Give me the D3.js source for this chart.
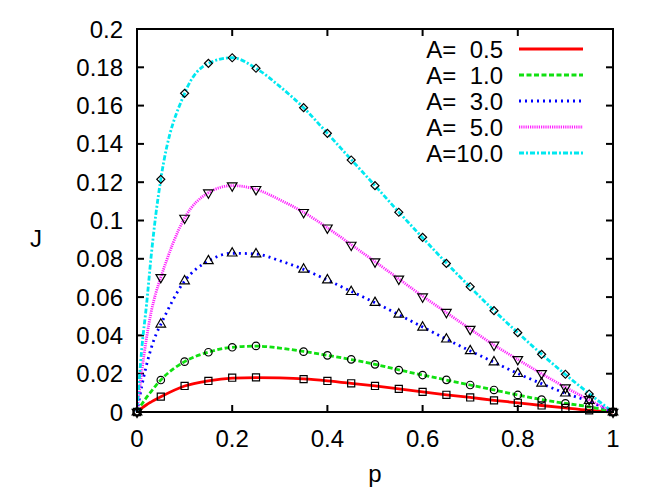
<!DOCTYPE html>
<html lang="en">
  <head>
    <meta charset="utf-8">
    <script src="https://cdn.jsdelivr.net/npm/d3@7"></script>
    <title>J vs p</title>
    <style>
      body { margin: 0; background: #fff; }
      text { font-family: "Liberation Sans", Arial, sans-serif; fill: #000; }
    </style>
  </head>
  <body>
    <script>

    // marker positions (p) and the J value of each curve there
    var pMarks = [0, 0.05, 0.1, 0.15, 0.2, 0.25, 0.35, 0.4, 0.45, 0.5, 0.55, 0.6, 0.65, 0.7, 0.75, 0.8, 0.85, 0.9, 0.95, 1.0];
    var marksA05 = [0, 0.0080, 0.0136, 0.0162, 0.0179, 0.0181, 0.0172, 0.0162, 0.0150, 0.0136, 0.0121, 0.0105, 0.0090, 0.0076, 0.0061, 0.0048, 0.0034, 0.0021, 0.0009, 0];
    var marksA1  = [0, 0.0167, 0.0263, 0.0312, 0.0338, 0.0345, 0.0315, 0.0296, 0.0275, 0.0249, 0.0219, 0.0193, 0.0168, 0.0141, 0.0115, 0.0089, 0.0065, 0.0045, 0.0028, 0];
    var marksA3  = [0, 0.0458, 0.0684, 0.0789, 0.0829, 0.0825, 0.0745, 0.0689, 0.0628, 0.0571, 0.0510, 0.0442, 0.0380, 0.0319, 0.0261, 0.0200, 0.0150, 0.0098, 0.0060, 0];
    var marksA5  = [0, 0.0703, 0.1013, 0.1145, 0.1182, 0.1163, 0.1043, 0.0962, 0.0872, 0.0785, 0.0695, 0.0602, 0.0521, 0.0433, 0.0350, 0.0275, 0.0202, 0.0127, 0.0066, 0];
    var marksA10 = [0, 0.1215, 0.1664, 0.1821, 0.1850, 0.1795, 0.1589, 0.1455, 0.1316, 0.1182, 0.1043, 0.0912, 0.0776, 0.0654, 0.0529, 0.0414, 0.0301, 0.0197, 0.0094, 0];

    // the drawn curves (denser near p=0)
    var pLine = [0, 0.01, 0.02, 0.03, 0.04, 0.05, 0.1, 0.15, 0.2, 0.25, 0.3, 0.35, 0.4, 0.45, 0.5, 0.55, 0.6, 0.65, 0.7, 0.75, 0.8, 0.85, 0.9, 0.95, 1.0];
    var lineA05 = [0, 0.0020, 0.0038, 0.0053, 0.0067, 0.0080, 0.0136, 0.0163, 0.0177, 0.0180, 0.0178, 0.0173, 0.0163, 0.0150, 0.0136, 0.0121, 0.0105, 0.0090, 0.0076, 0.0061, 0.0048, 0.0034, 0.0021, 0.0009, 0];
    var lineA1  = [0, 0.0040, 0.0076, 0.0108, 0.0139, 0.0167, 0.0263, 0.0313, 0.0338, 0.0344, 0.0334, 0.0316, 0.0296, 0.0274, 0.0249, 0.0220, 0.0193, 0.0167, 0.0141, 0.0115, 0.0089, 0.0065, 0.0045, 0.0027, 0];
    var lineA3  = [0, 0.0135, 0.0245, 0.0335, 0.0405, 0.0458, 0.0684, 0.0789, 0.0829, 0.0825, 0.0790, 0.0745, 0.0689, 0.0630, 0.0571, 0.0508, 0.0444, 0.0380, 0.0319, 0.0260, 0.0201, 0.0148, 0.0098, 0.0055, 0];
    var lineA5  = [0, 0.0210, 0.0385, 0.0525, 0.0625, 0.0703, 0.1013, 0.1145, 0.1182, 0.1163, 0.1108, 0.1043, 0.0962, 0.0874, 0.0785, 0.0695, 0.0605, 0.0519, 0.0433, 0.0350, 0.0274, 0.0200, 0.0129, 0.0063, 0];
    var lineA10 = [0, 0.0330, 0.0560, 0.0820, 0.1040, 0.1215, 0.1664, 0.1821, 0.1850, 0.1795, 0.1700, 0.1589, 0.1455, 0.1318, 0.1182, 0.1044, 0.0910, 0.0778, 0.0652, 0.0530, 0.0414, 0.0302, 0.0196, 0.0096, 0];

    var legendLabels = ["A=  0.5", "A=  1.0", "A=  3.0", "A=  5.0", "A=10.0"];
    var xTicks = [0, 0.2, 0.4, 0.6, 0.8, 1];
    var yTicks = [0, 0.02, 0.04, 0.06, 0.08, 0.1, 0.12, 0.14, 0.16, 0.18, 0.2];

    var series = [
      {name: legendLabels[0], line: lineA05, marks: marksA05, color: "#ff0000", dash: null,        shape: "square"},
      {name: legendLabels[1], line: lineA1,  marks: marksA1,  color: "#11e011", dash: "5,2.5",     shape: "circle"},
      {name: legendLabels[2], line: lineA3,  marks: marksA3,  color: "#0000ff", dash: "2,4",       shape: "up"},
      {name: legendLabels[3], line: lineA5,  marks: marksA5,  color: "#ff22ff", dash: "1.2,1",     shape: "down"},
      {name: legendLabels[4], line: lineA10, marks: marksA10, color: "#00e8f0", dash: "5,2,2,2",   shape: "diamond"}
    ];

    var W = 654, H = 491;
    var plotL = 137, plotR = 613, plotT = 29, plotB = 412;

    var x = d3.scaleLinear().domain([0, 1]).range([plotL, plotR]);
    var y = d3.scaleLinear().domain([0, 0.2]).range([plotB, plotT]);

    var svg = d3.select("body").append("svg")
        .attr("width", W)
        .attr("height", H);

    // ticks (inside, mirrored) and labels
    var tl = 7;
    svg.append("g").selectAll("line").data(xTicks).enter().append("line")
        .attr("x1", d => x(d)).attr("x2", d => x(d))
        .attr("y1", plotB).attr("y2", plotB - tl)
        .attr("stroke", "#000").attr("stroke-width", 2);
    svg.append("g").selectAll("line").data(xTicks).enter().append("line")
        .attr("x1", d => x(d)).attr("x2", d => x(d))
        .attr("y1", plotT).attr("y2", plotT + tl)
        .attr("stroke", "#000").attr("stroke-width", 2);
    svg.append("g").selectAll("line").data(yTicks).enter().append("line")
        .attr("x1", plotL).attr("x2", plotL + tl)
        .attr("y1", d => y(d)).attr("y2", d => y(d))
        .attr("stroke", "#000").attr("stroke-width", 2);
    svg.append("g").selectAll("line").data(yTicks).enter().append("line")
        .attr("x1", plotR).attr("x2", plotR - tl)
        .attr("y1", d => y(d)).attr("y2", d => y(d))
        .attr("stroke", "#000").attr("stroke-width", 2);

    svg.append("g").selectAll("text").data(xTicks).enter().append("text")
        .attr("x", d => x(d)).attr("y", plotB + 35)
        .attr("text-anchor", "middle")
        .style("font-size", "24px")
        .text(d => d3.format("")(d));
    svg.append("g").selectAll("text").data(yTicks).enter().append("text")
        .attr("x", plotL - 14).attr("y", d => y(d) + 8.5)
        .attr("text-anchor", "end")
        .style("font-size", "24px")
        .text(d => d3.format("")(+d.toFixed(2)));

    svg.append("text").attr("x", x(0.5)).attr("y", 482)
        .attr("text-anchor", "middle").style("font-size", "24px").text("p");
    svg.append("text").attr("x", 36).attr("y", 247)
        .attr("text-anchor", "middle").style("font-size", "24px").text("J");

    // curves
    var line = d3.line()
        .x((d, i) => x(pLine[i]))
        .y(d => y(d))
        .curve(d3.curveMonotoneX);

    var plot = svg.append("g");
    series.forEach(function(s) {
      plot.append("path")
          .attr("d", line(s.line))
          .attr("fill", "none")
          .attr("stroke", s.color)
          .attr("stroke-width", 2.8)
          .attr("stroke-dasharray", s.dash);
    });

    var shapes = {
      square:  {type: d3.symbolSquare,   size: 50, rot: 0},
      circle:  {type: d3.symbolCircle,   size: 44, rot: 0},
      up:      {type: d3.symbolTriangle, size: 40, rot: 0},
      down:    {type: d3.symbolTriangle, size: 40, rot: 180},
      diamond: {type: d3.symbolSquare,   size: 32, rot: 45}
    };

    series.forEach(function(s) {
      var sh = shapes[s.shape];
      plot.append("g").selectAll("path").data(s.marks).enter().append("path")
          .attr("d", d3.symbol().type(sh.type).size(sh.size)())
          .attr("transform", (d, i) => "translate(" + x(pMarks[i]) + "," + y(d) + ") rotate(" + sh.rot + ")")
          .attr("fill", "none")
          .attr("stroke", "#000")
          .attr("stroke-width", 1.2);
    });

    // frame
    svg.append("rect")
        .attr("x", plotL).attr("y", plotT)
        .attr("width", plotR - plotL).attr("height", plotB - plotT)
        .attr("fill", "none").attr("stroke", "#000").attr("stroke-width", 2);

    // legend
    var leg = svg.append("g");
    series.forEach(function(s, i) {
      var ly = 49 + i * 26;
      leg.append("text").attr("x", 503).attr("y", ly + 8.5)
          .attr("text-anchor", "end").style("font-size", "24px")
          .attr("xml:space", "preserve").style("white-space", "pre")
          .text(s.name);
      leg.append("line")
          .attr("x1", 519).attr("x2", 583)
          .attr("y1", ly).attr("y2", ly)
          .attr("stroke", s.color).attr("stroke-width", 2.8)
          .attr("stroke-dasharray", s.dash);
    });

    </script>
  </body>
</html>
